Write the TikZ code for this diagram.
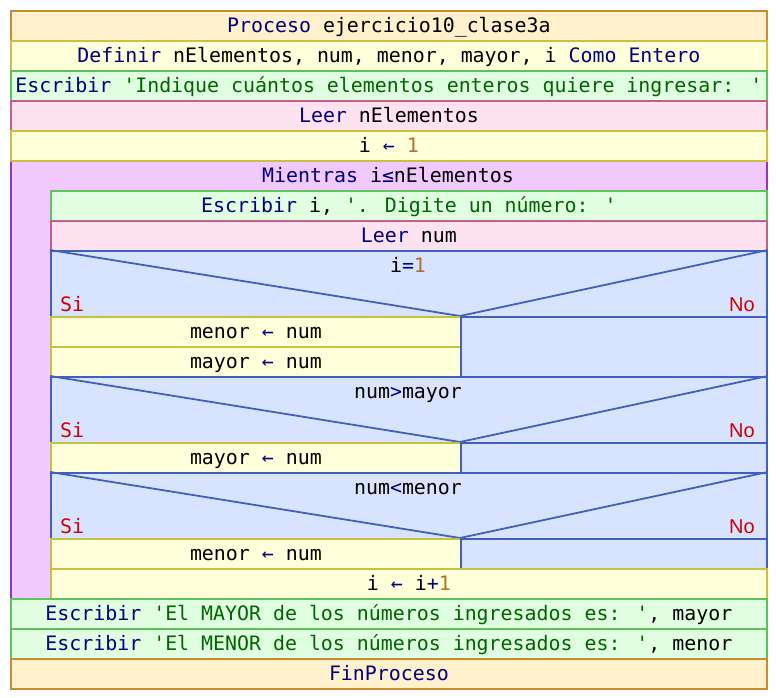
\documentclass[tikz,border=0pt]{standalone}
\usepackage{fontspec}
\newfontfamily\mono{DejaVu Sans Mono}
\newfontfamily\sansno{Liberation Sans}
\definecolor{procF}{RGB}{255,241,204}
\definecolor{procD}{RGB}{200,140,50}
\definecolor{yelF}{RGB}{255,255,218}
\definecolor{yelD}{RGB}{200,192,64}
\definecolor{grnF}{RGB}{224,255,224}
\definecolor{grnD}{RGB}{96,192,96}
\definecolor{pnkF}{RGB}{255,226,240}
\definecolor{pnkD}{RGB}{192,96,136}
\definecolor{purF}{RGB}{240,202,255}
\definecolor{purD}{RGB}{148,52,200}
\definecolor{bluF}{RGB}{216,228,255}
\definecolor{bluD}{RGB}{64,96,192}
\definecolor{kwC}{RGB}{0,0,128}
\definecolor{strC}{RGB}{0,100,0}
\definecolor{numC}{RGB}{176,112,48}
\definecolor{siC}{RGB}{208,0,0}
\newcommand{\kw}[1]{\textcolor{kwC}{#1}}
\newcommand{\strg}[1]{\textcolor{strC}{#1}}
\newcommand{\nm}[1]{\textcolor{numC}{#1}}
\newcommand{\asg}{\kw{←}}
\begin{document}
\begin{tikzpicture}[x=1pt,y=-1pt,
  box/.style={draw, line width=1.8pt, inner sep=0pt, anchor=north west,
    minimum height=30pt, text height=17pt, text depth=3pt, font=\mono\fontsize{19.9}{24}\selectfont},
  full/.style={box, minimum width=756pt},
  inner/.style={box, minimum width=716pt},
  yesb/.style={box, minimum width=410pt},
  nob/.style={box, minimum width=306pt, fill=bluF, draw=bluD},
  proc/.style={fill=procF, draw=procD},
  yel/.style={fill=yelF, draw=yelD},
  grn/.style={fill=grnF, draw=grnD},
  pnk/.style={fill=pnkF, draw=pnkD},
  condbox/.style={draw=bluD, fill=bluF, line width=1.8pt, inner sep=0pt, anchor=north west,
    minimum width=716pt, minimum height=66pt},
  condtxt/.style={anchor=base, inner sep=0pt, font=\mono\fontsize{19.9}{24}\selectfont},
  silbl/.style={anchor=base west, inner sep=0pt, text=siC, font=\mono\fontsize{19.9}{24}\selectfont},
  nolbl/.style={anchor=base east, inner sep=0pt, text=siC, font=\sansno\fontsize{20}{24}\selectfont},
  condline/.style={draw=bluD, line width=1.8pt}
]
\useasboundingbox (0,0) rectangle (776,698);
% Mientras outer
\node[draw=purD, fill=purF, line width=1.8pt, inner sep=0pt, anchor=north west,
  minimum width=756pt, minimum height=438pt] (loop) at (10,160) {};
\node[anchor=base, inner sep=0pt, font=\mono\fontsize{19.9}{24}\selectfont] (looptxt) at (388,182)
  {\kw{Mientras} i\kw{≤}nElementos};

\node[full,proc] (p1) at (10,10) {\kw{Proceso} ejercicio10\_clase3a};
\node[full,yel] (p2) at (10,40) {\kw{Definir} nElementos, num, menor, mayor, i \kw{Como Entero}};
\node[full,grn] (p3) at (10,70) {\kw{Escribir} \strg{'Indique cuántos elementos enteros quiere ingresar: '}};
\node[full,pnk] (p4) at (10,100) {\kw{Leer} nElementos};
\node[full,yel] (p5) at (10,130) {i \asg{} \nm{1}};

\node[inner,grn] (w1) at (50,190) {\kw{Escribir} i, \strg{'. Digite un número: '}};
\node[inner,pnk] (w2) at (50,220) {\kw{Leer} num};

% condition 1
\node[condbox] (c1) at (50,250) {};
\coordinate (c1v) at (460,316);
\draw[condline] (c1.north west) -- (c1v) -- (c1.north east);
\node[condtxt] (c1t) at (408,272) {i\kw{=}\nm{1}};
\node[silbl] (c1s) at (60,311) {Si};
\node[nolbl] (c1n) at (755,311) {No};
\node[yesb,yel] (y1a) at (50,316) {menor \asg{} num};
\node[yesb,yel] (y1b) at (50,346) {mayor \asg{} num};
\node[nob, minimum height=60pt] (n1) at (460,316) {};

% condition 2
\node[condbox] (c2) at (50,376) {};
\coordinate (c2v) at (460,442);
\draw[condline] (c2.north west) -- (c2v) -- (c2.north east);
\node[condtxt] (c2t) at (408,398) {num\kw{>}mayor};
\node[silbl] (c2s) at (60,437) {Si};
\node[nolbl] (c2n) at (755,437) {No};
\node[yesb,yel] (y2a) at (50,442) {mayor \asg{} num};
\node[nob] (n2) at (460,442) {};

% condition 3
\node[condbox] (c3) at (50,472) {};
\coordinate (c3v) at (460,538);
\draw[condline] (c3.north west) -- (c3v) -- (c3.north east);
\node[condtxt] (c3t) at (408,494) {num\kw{<}menor};
\node[silbl] (c3s) at (60,533) {Si};
\node[nolbl] (c3n) at (755,533) {No};
\node[yesb,yel] (y3a) at (50,538) {menor \asg{} num};
\node[nob] (n3) at (460,538) {};

\node[inner,yel] (w9) at (50,568) {i \asg{} i\kw{+}\nm{1}};

\node[full,grn] (e1) at (10,598) {\kw{Escribir} \strg{'El MAYOR de los números ingresados es: '}, mayor};
\node[full,grn] (e2) at (10,628) {\kw{Escribir} \strg{'El MENOR de los números ingresados es: '}, menor};
\node[full,proc] (fin) at (10,658) {\kw{FinProceso}};
\end{tikzpicture}
\end{document}
